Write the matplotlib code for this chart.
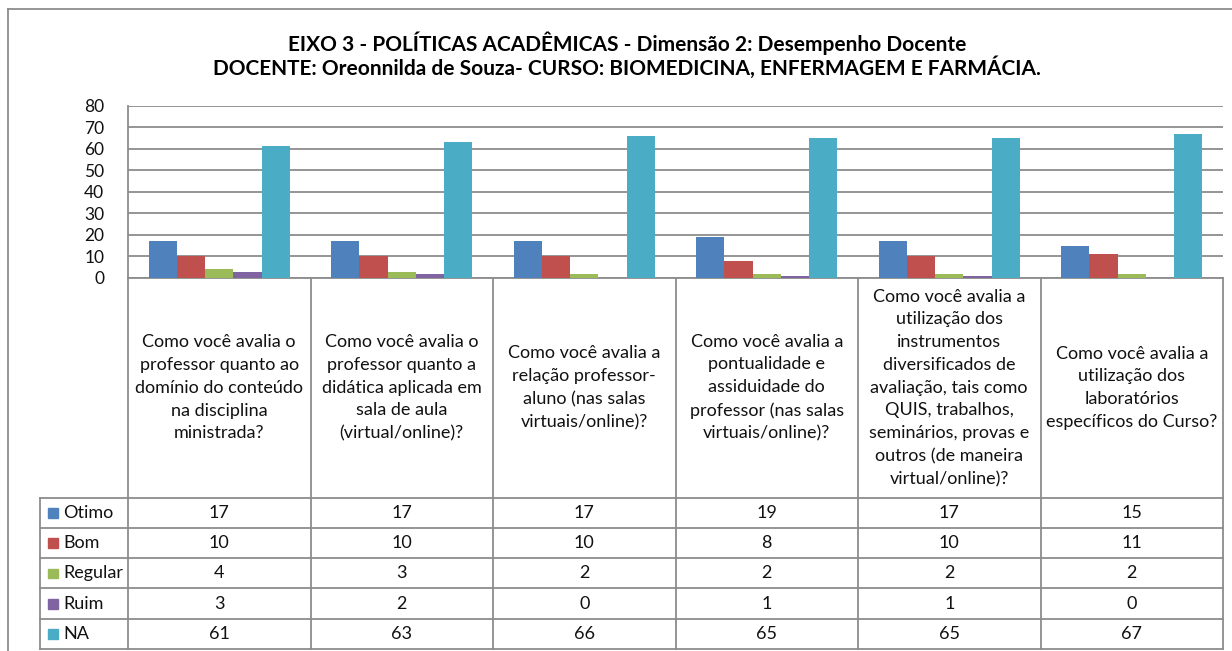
import matplotlib
matplotlib.use("Agg")
import matplotlib.pyplot as plt
import numpy as np

plt.rcParams['font.family'] = ['Lato', 'DejaVu Sans']

title_lines = ["EIXO 3 - POLÍTICAS ACADÊMICAS - Dimensão 2: Desempenho Docente",
               "DOCENTE: Oreonnilda de Souza- CURSO: BIOMEDICINA, ENFERMAGEM E FARMÁCIA."]

categories = [
    "Como você avalia o\nprofessor quanto ao\ndomínio do conteúdo\nna disciplina\nministrada?",
    "Como você avalia o\nprofessor quanto a\ndidática aplicada em\nsala de aula\n(virtual/online)?",
    "Como você avalia a\nrelação professor-\naluno (nas salas\nvirtuais/online)?",
    "Como você avalia a\npontualidade e\nassiduidade do\nprofessor (nas salas\nvirtuais/online)?",
    "Como você avalia a\nutilização dos\ninstrumentos\ndiversificados de\navaliação, tais como\nQUIS, trabalhos,\nseminários, provas e\noutros (de maneira\nvirtual/online)?",
    "Como você avalia a\nutilização dos\nlaboratórios\nespecíficos do Curso?",
]
series_names = ["Otimo", "Bom", "Regular", "Ruim", "NA"]
otimo = [17, 17, 17, 19, 17, 15]
bom = [10, 10, 10, 8, 10, 11]
regular = [4, 3, 2, 2, 2, 2]
ruim = [3, 2, 0, 1, 1, 0]
na = [61, 63, 66, 65, 65, 67]
yticks = [0, 10, 20, 30, 40, 50, 60, 70, 80]

series = [otimo, bom, regular, ruim, na]
colors = ["#4F81BD", "#C0504D", "#9BBB59", "#8064A2", "#4BACC6"]
grid_c = "#8C8C8C"
txt_c = "#111111"

W, H = 1232, 651
fig = plt.figure(figsize=(W / 100, H / 100), dpi=100)

ov = fig.add_axes([0, 0, 1, 1])
ov.set_xlim(0, W)
ov.set_ylim(H, 0)
ov.axis('off')

# chart frame
ov.plot([8, 8], [9, H + 5], color=grid_c, lw=1.3)
ov.plot([8, W + 5], [9, 9], color=grid_c, lw=1.3)

# title
for line, ty in zip(title_lines, [43, 68]):
    ov.text(627, ty, line, ha='center', va='center', fontsize=15, fontweight='bold',
            color='black')

pl, pr, pt, pb = 128, 1223, 105.5, 278
ax = fig.add_axes([pl / W, 1 - pb / H, (pr - pl) / W, (pb - pt) / H])
n = len(categories)
x = np.arange(n)
bw = 0.155
for i, (vals, c) in enumerate(zip(series, colors)):
    ax.bar(x + (i - 2) * bw, vals, width=bw, color=c, zorder=3, linewidth=0)
ax.set_xlim(-0.5, n - 0.5)
ax.set_ylim(0, 80)
ax.set_yticks(yticks)
ax.set_yticklabels([str(v) for v in yticks], fontsize=12.5, color=txt_c)
ax.tick_params(axis='y', length=0, pad=17)
ax.set_xticks([])
ax.grid(axis='y', color=grid_c, lw=1.3, zorder=0)
for s in ['top', 'right', 'bottom']:
    ax.spines[s].set_visible(False)
ax.spines['left'].set_color(grid_c)
ax.spines['left'].set_linewidth(1.3)
ax.patch.set_alpha(0)

col_x = np.linspace(pl, pr, n + 1)
leg_left = 40
hdr_bottom = 497.5
row_y = np.linspace(hdr_bottom, 649, len(series) + 1)

lw = 1.3
for cx in col_x:
    ov.plot([cx, cx], [pb, row_y[-1]], color=grid_c, lw=lw)
ov.plot([leg_left, leg_left], [hdr_bottom, row_y[-1]], color=grid_c, lw=lw)
ov.plot([pl, pr], [pb, pb], color=grid_c, lw=lw)
for ry in row_y:
    ov.plot([leg_left, pr], [ry, ry], color=grid_c, lw=lw)

for j, cat in enumerate(categories):
    cx = (col_x[j] + col_x[j + 1]) / 2
    ov.text(cx, (pb + hdr_bottom) / 2, cat, ha='center', va='center',
            fontsize=13, linespacing=1.52, color=txt_c)

for i, (name, vals, c) in enumerate(zip(series_names, series, colors)):
    cy = (row_y[i] + row_y[i + 1]) / 2
    ov.add_patch(plt.Rectangle((48, cy - 4.5), 9.5, 9.5, color=c))
    ov.text(63, cy, name, ha='left', va='center', fontsize=13, color=txt_c)
    for j, v in enumerate(vals):
        cx = (col_x[j] + col_x[j + 1]) / 2
        ov.text(cx, cy, str(v), ha='center', va='center', fontsize=13, color=txt_c)

fig.savefig("out.png", dpi=100)
